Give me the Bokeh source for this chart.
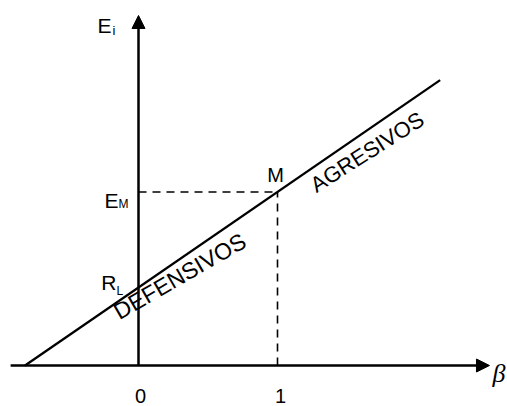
import math
from bokeh.plotting import figure
from bokeh.models import Range1d, Arrow, NormalHead
from bokeh.embed import file_html
from bokeh.resources import INLINE
from bokeh.core.properties import value

# ---- data ----
beta_ticks = [0, 1]
beta_tick_labels = ["0", "1"]
R_L = 4.0          # risk-free return (intercept)
E_M = 8.9          # expected market return at beta = 1
beta_market = 1.0
beta_line_end = 2.17
beta_axis_start = -0.92
beta_axis_end = 2.525
E_axis_top = 17.95
segment_labels = ["DEFENSIVOS", "AGRESIVOS"]
segment_label_beta = [-0.165, 1.252]

slope = (E_M - R_L) / beta_market
beta_zero = -R_L / slope
line_x = [beta_zero, beta_line_end]
line_y = [R_L + slope * b for b in line_x]

FONT = value("Liberation Sans")

W, H = 507, 406
p = figure(width=W, height=H, x_range=Range1d(-138 / 139, (W - 138) / 139),
           y_range=Range1d((365 - H) / 19.5, 365 / 19.5), x_axis_type=None, y_axis_type=None,
           toolbar_location=None, output_backend="svg", min_border=0)
p.grid.visible = False
p.outline_line_color = None

# axes with arrows
p.add_layout(Arrow(end=NormalHead(size=13, fill_color="black", line_color="black", line_width=1),
                   x_start=beta_axis_start, y_start=0, x_end=beta_axis_end, y_end=0,
                   line_width=2.5, line_color="black"))
p.add_layout(Arrow(end=NormalHead(size=13, fill_color="black", line_color="black", line_width=1),
                   x_start=0, y_start=0, x_end=0, y_end=E_axis_top,
                   line_width=2.5, line_color="black"))

# security market line
p.line(line_x, line_y, line_width=2.3, line_color="black")

# dashed guides to M
p.line([0, beta_market], [E_M, E_M], line_dash="8 6", line_width=1.6, line_color="black")
p.line([beta_market, beta_market], [0, E_M], line_dash="8 6", line_width=1.6, line_color="black")

def txt(x, y, t, size, dx=0, dy=0, align="left", baseline="alphabetic", angle=0.0,
        font=FONT, style="normal"):
    p.text(x=[x], y=[y], text=[t], x_offset=dx, y_offset=dy, angle=angle,
           text_font=font, text_font_size=f"{size}px", text_align=align,
           text_baseline=baseline, text_color="black", text_font_style=style)

# tick labels
for b, lab in zip(beta_ticks, beta_tick_labels):
    txt(b, 0, lab, 20, dx=2 if b == 0 else 3, dy=30, align="center")

# axis labels
txt(0, E_axis_top, "E", 21, dx=-27, dy=10, align="right")
txt(0, E_axis_top, "i", 13, dx=-26, dy=15)
txt(0, E_M, "E", 21, dx=-20, dy=9, align="right")
txt(0, E_M, "M", 12, dx=-20, dy=12)
txt(0, R_L, "R", 21, dx=-22, dy=-5, align="right")
txt(0, R_L, "L", 12, dx=-22, dy=3)
txt(beta_market, E_M, "M", 20, dx=-2, dy=-17, align="center")
txt(beta_axis_end, 0, "\u03b2", 26, dx=3, dy=8, font=value("Liberation Serif"), style="italic")

# segment labels along the line
offs = [10, 19]
angs = [30, 32.5]
sizes = [23, 22]
for lab, b, o, a, s in zip(segment_labels, segment_label_beta, offs, angs, sizes):
    txt(b, R_L + slope * b, lab, s, dx=0, dy=o, angle=math.radians(a))

open("out.html", "w").write(file_html(p, INLINE))
